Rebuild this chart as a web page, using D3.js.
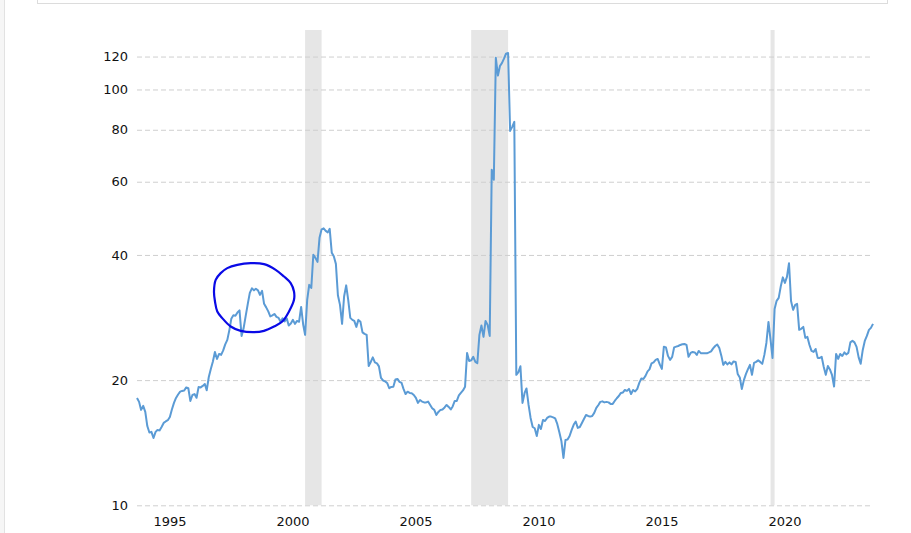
<!DOCTYPE html>
<html>
<head>
<meta charset="utf-8">
<script src="https://cdn.jsdelivr.net/npm/d3@7"></script>
<style>
  body { margin: 0; background: #fff; }
  svg { display: block; }
</style>
</head>
<body>
<div id="chart"></div>
<script>
// monthly PE values, first month below
const startMonth = '1994-05';
const peValues = [
  18.12, 17.73, 16.96, 17.34, 16.77, 15.51, 14.97, 15.02, 14.52, 15.02, 15.18, 15.14,
  15.43, 15.78, 15.91, 16.02, 16.31, 17.0, 17.63, 18.12, 18.47, 18.76, 18.84, 18.89,
  19.21, 19.12, 17.82, 18.42, 18.51, 18.14, 19.26, 19.21, 19.37, 19.58, 18.9, 20.35,
  21.28, 22.18, 23.38, 22.49, 23.12, 23.0, 23.58, 24.37, 24.99, 26.42, 28.08, 28.63,
  28.55, 29.1, 29.43, 25.55, 26.71, 28.55, 30.51, 32.43, 33.25, 32.88, 33.16, 32.88,
  32.06, 32.79, 30.51, 29.92, 29.27, 28.47, 28.63, 28.85, 28.39, 28.23, 27.62, 28.15,
  27.69, 28.15, 27.07, 27.37, 27.92, 27.31, 27.76, 27.62, 30.0, 27.16, 25.69, 31.19,
  33.89, 33.34, 40.03, 39.36, 38.5, 43.98, 46.09, 46.35, 45.71, 45.33, 46.22, 40.47,
  39.69, 38.07, 32.0, 30.34, 27.31, 31.77, 33.8, 31.19, 28.23, 27.92, 27.76, 26.86,
  27.92, 27.62, 26.05, 25.83, 25.69, 21.63, 22.12, 22.68, 22.06, 21.94, 21.58, 20.24,
  19.96, 19.86, 19.69, 19.12, 19.26, 19.27, 20.07, 20.13, 19.81, 19.69, 19.05, 18.52,
  18.76, 18.63, 18.6, 18.42, 18.12, 17.63, 17.92, 17.76, 17.68, 17.68, 17.76, 17.43,
  17.12, 16.96, 16.49, 16.77, 16.96, 17.0, 17.19, 17.43, 17.24, 17.0, 17.29, 17.82,
  17.82, 18.37, 18.63, 18.89, 19.29, 23.25, 22.24, 22.31, 22.75, 22.12, 21.96, 25.69,
  27.07, 25.41, 27.76, 27.16, 25.55, 64.1, 60.65, 119.2, 108.0, 114.0, 115.7, 118.6,
  121.9, 122.4, 79.5, 81.3, 83.6, 20.59, 20.9, 21.6, 17.63, 18.63, 19.1, 17.43,
  16.22, 15.43, 15.32, 14.68, 15.61, 15.26, 16.04, 15.95, 16.22, 16.34, 16.34, 16.27,
  16.18, 15.69, 15.01, 14.28, 13.0, 14.36, 14.4, 14.68, 15.18, 15.64, 15.9, 15.35,
  15.43, 15.78, 16.13, 16.49, 16.4, 16.34, 16.4, 16.68, 17.15, 17.43, 17.73, 17.78,
  17.68, 17.73, 17.68, 17.53, 17.53, 17.82, 18.09, 18.32, 18.63, 18.68, 18.94, 18.84,
  19.05, 18.52, 18.94, 18.78, 19.05, 19.69, 20.19, 20.13, 20.47, 20.99, 21.22, 21.94,
  22.06, 22.37, 22.49, 21.82, 21.28, 24.07, 23.97, 22.87, 22.37, 22.75, 23.97, 24.07,
  24.16, 24.3, 24.39, 24.43, 24.3, 22.75, 23.25, 23.38, 23.32, 23.0, 23.51, 23.22,
  23.2, 23.2, 23.2, 23.32, 23.45, 23.84, 24.16, 24.37, 23.9, 22.87, 21.76, 22.12,
  21.82, 22.06, 21.82, 22.18, 22.12, 20.7, 20.3, 19.05, 20.0, 20.7, 21.22, 21.76,
  20.59, 22.0, 22.12, 22.31, 22.12, 21.88, 23.0, 24.57, 27.61, 24.99, 22.62, 29.67,
  31.02, 31.54, 33.57, 35.33, 34.27, 35.43, 38.2, 31.0, 29.51, 30.34, 30.5, 26.42,
  26.57, 26.86, 25.27, 25.41, 24.3, 23.51, 23.38, 23.77, 22.62, 22.62, 22.75, 21.51,
  20.59, 21.63, 21.22, 20.59, 19.3, 23.12, 22.49, 23.12, 22.87, 23.32, 23.06, 23.25,
  24.65, 24.87, 24.65, 24.04, 22.68, 21.9, 23.64, 24.85, 25.55, 26.42, 26.71, 27.31
];

// recessions (shaded)
const recessionStarts = ['2001-03', '2007-12', '2020-02'];
const recessionEnds = ['2001-11', '2009-06', '2020-04'];

const yTickValues = [10, 20, 40, 60, 80, 100, 120];
const xTickYears = [1995, 2000, 2005, 2010, 2015, 2020];

// hand drawn circle, centred on a date/value, offsets in px
const noteDate = '1999-02';
const noteValue = 31.6;
const noteOffsets = [
  [-26.7, -29.4], [-16.7, -32.7], [-3.3, -34.4], [10, -33.4], [21.7, -27.7], [30, -21],
  [36.7, -14.4], [40, -6], [40, 2.3], [35, 14], [28.3, 24], [20, 29], [10, 33.3],
  [0, 34.6], [-13.3, 33.3], [-23.3, 29], [-31.7, 20.6], [-36.7, 14], [-39, 4],
  [-40, -6], [-38.3, -17.7], [-33.3, -24.4]
];

const width = 911, height = 533;
const parseMonth = d3.timeParse('%Y-%m');
const start = parseMonth(startMonth);
const data = peValues.map((v, i) => ({date: d3.timeMonth.offset(start, i), value: v}));

const xScale = d3.scaleTime()
  .domain(d3.extent(data, d => d.date))
  .range([137, 873]);

const yScale = d3.scaleLog()
  .domain([10, 139])
  .range([505.3, 30]);

const svg = d3.select('#chart')
  .append('svg')
  .attr('width', width)
  .attr('height', height)
  .attr('viewBox', `0 0 ${width} ${height}`);

// page furniture: left strip and the box above the chart
svg.append('rect')
  .attr('x', 0).attr('y', 0).attr('width', 4).attr('height', height)
  .attr('fill', '#f6f6f6');
svg.append('line')
  .attr('x1', 4.5).attr('x2', 4.5).attr('y1', 0).attr('y2', height)
  .attr('stroke', '#e2e2e2');
svg.append('rect')
  .attr('x', 37.5).attr('y', -10).attr('width', 850).attr('height', 13.5)
  .attr('fill', 'none')
  .attr('stroke', '#dcdcdc');

// recession bands
svg.append('g')
  .selectAll('rect')
  .data(recessionStarts.map((s, i) => ({s: parseMonth(s), e: parseMonth(recessionEnds[i])})))
  .join('rect')
    .attr('x', d => xScale(d.s))
    .attr('width', d => xScale(d.e) - xScale(d.s))
    .attr('y', yScale.range()[1])
    .attr('height', yScale(10) - yScale.range()[1])
    .attr('fill', '#e6e6e6');

// dashed gridlines + y labels
const yAxis = svg.append('g')
  .attr('transform', `translate(${xScale.range()[0]},0)`)
  .call(d3.axisLeft(yScale)
    .tickValues(yTickValues)
    .tickFormat(d3.format('d'))
    .tickSize(-(xScale.range()[1] - xScale.range()[0]))
    .tickPadding(9));
yAxis.select('.domain').remove();
yAxis.selectAll('.tick line')
  .attr('stroke', '#cfcfcf')
  .attr('stroke-dasharray', '5,3');
yAxis.selectAll('.tick text')
  .attr('fill', '#111')
  .attr('font-family', 'DejaVu Sans, Verdana, sans-serif')
  .attr('font-size', '13px');

// year labels, left aligned on Jan 1st
svg.append('g')
  .selectAll('text')
  .data(xTickYears)
  .join('text')
    .attr('x', d => xScale(new Date(d, 0, 1)))
    .attr('y', 526)
    .attr('text-anchor', 'start')
    .attr('fill', '#111')
    .attr('font-family', 'DejaVu Sans, Verdana, sans-serif')
    .attr('font-size', '13px')
    .text(d => d);

// the PE line
const line = d3.line()
  .x(d => xScale(d.date))
  .y(d => yScale(d.value));

svg.append('path')
  .datum(data)
  .attr('fill', 'none')
  .attr('stroke', '#5b9bd5')
  .attr('stroke-width', 2)
  .attr('stroke-linejoin', 'round')
  .attr('d', line);

// circle annotation
const cx = xScale(parseMonth(noteDate));
const cy = yScale(noteValue);
svg.append('path')
  .datum(noteOffsets)
  .attr('fill', 'none')
  .attr('stroke', '#0a0ae6')
  .attr('stroke-width', 2.2)
  .attr('d', d3.line()
    .x(d => cx + d[0])
    .y(d => cy + d[1])
    .curve(d3.curveCatmullRomClosed));
</script>
</body>
</html>
